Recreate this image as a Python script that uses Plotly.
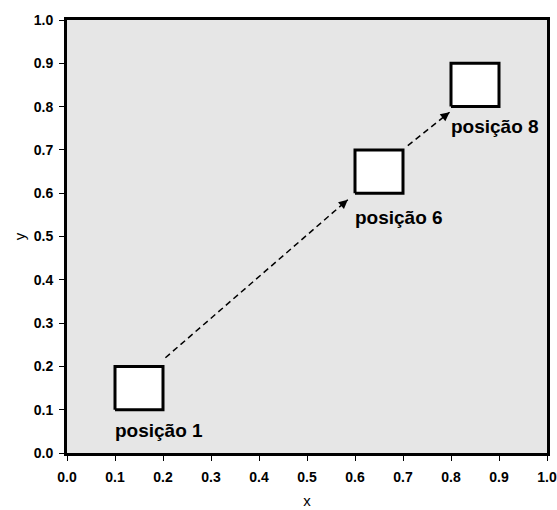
import math
import plotly.graph_objects as go

# squares: lower-left corners and size (data units)
sq_x0 = [0.1, 0.6, 0.8]
sq_y0 = [0.1, 0.6, 0.8]
sq_size = 0.1
labels = ["posição 1", "posição 6", "posição 8"]
label_x = [0.1, 0.6, 0.8]
label_y = [0.052, 0.545, 0.755]

# arrows: start and end points
arr_x0 = [0.205, 0.71]
arr_y0 = [0.22, 0.71]
arr_x1 = [0.585, 0.797]
arr_y1 = [0.585, 0.787]

ticks = [round(i * 0.1, 1) for i in range(11)]
tick_text = [f"{t:.1f}" for t in ticks]

fig = go.Figure()

for x0, y0 in zip(sq_x0, sq_y0):
    fig.add_trace(go.Scatter(
        x=[x0, x0 + sq_size, x0 + sq_size, x0, x0],
        y=[y0, y0, y0 + sq_size, y0 + sq_size, y0],
        mode="lines", fill="toself", fillcolor="white",
        line=dict(color="black", width=3), hoverinfo="skip", showlegend=False))

for xa, ya, xb, yb in zip(arr_x0, arr_y0, arr_x1, arr_y1):
    fig.add_trace(go.Scatter(
        x=[xa, xb], y=[ya, yb], mode="lines",
        line=dict(color="black", width=1.5, dash="6px,4px"),
        hoverinfo="skip", showlegend=False))
    # arrow head only: short pixel-offset tail in the line's direction
    ang = math.atan2((yb - ya) * 433, (xb - xa) * 480)
    fig.add_annotation(
        x=xb, y=yb, ax=-10 * math.cos(ang), ay=10 * math.sin(ang),
        xref="x", yref="y",
        showarrow=True, arrowhead=2, arrowsize=1.2, arrowwidth=1.5,
        arrowcolor="black", text="")

for t, lx, ly in zip(labels, label_x, label_y):
    fig.add_annotation(
        x=lx, y=ly, xref="x", yref="y", text=t, showarrow=False,
        xanchor="left", yanchor="middle", xshift=-2,
        font=dict(family="Liberation Sans", size=19, color="black", weight="bold"))

axis_common = dict(
    range=[0, 1], tickvals=ticks, ticktext=tick_text,
    ticks="outside", ticklen=5, tickwidth=1, tickcolor="black",
    showgrid=False, zeroline=False, automargin=False,
    showline=True, linecolor="black", linewidth=3, mirror=True,
    tickfont=dict(family="Liberation Sans", size=14, color="black", weight="bold"),
)

fig.update_layout(
    width=557, height=510,
    margin=dict(l=67, r=10, t=20, b=57),
    paper_bgcolor="white", plot_bgcolor="#e6e6e6",
    xaxis=dict(**axis_common, ticklabelstandoff=4,
               title=dict(text="x", standoff=12,
               font=dict(family="Liberation Sans", size=15, color="black"))),
    yaxis=dict(**axis_common, ticklabelstandoff=3,
               title=dict(text="y", standoff=5,
               font=dict(family="Liberation Sans", size=15, color="black"))),
)

fig.write_html(
    "out.html",
    config={"displayModeBar": False},
    post_script="document.body.style.margin='0';document.body.style.overflow='hidden';",
)
